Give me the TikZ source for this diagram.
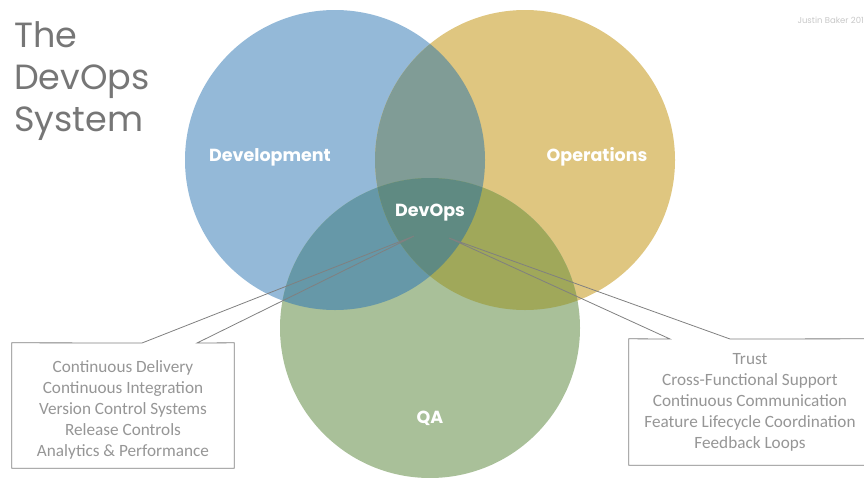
\documentclass[tikz,border=0pt]{standalone}
\usepackage{fontspec}
\setmainfont{Carlito}
\newfontfamily\gothic{Poppins}
\usepackage{tikz}
\usepackage{xcolor}
\tikzset{
        heading/.style={
            anchor=north west, inner sep=0pt, align=left,
            text=titlegray,
            font=\gothic\fontsize{35}{42}\selectfont
        },
        area/.style={
            text=white,
            font=\gothic\bfseries\fontsize{17.5}{20}\selectfont
        },
        notebox/.style={
            rectangle, fill=white, inner sep=0pt
        },
        notetext/.style={
            text=notegray, align=center, inner sep=0pt,
            font=\fontsize{17.2}{21}\selectfont
        },
        callout/.style={
            draw=linegray, line width=0.8pt, line join=miter
        },
        credit/.style={
            anchor=east, inner sep=0pt, text=creditgray,
            font=\gothic\fontsize{8.5}{10}\selectfont
        }
    }
\definecolor{devblue}{RGB}{148,185,216}
\definecolor{opsyellow}{RGB}{223,198,128}
\definecolor{qagreen}{RGB}{169,192,153}
\definecolor{devops}{RGB}{128,156,150}
\definecolor{devqa}{RGB}{102,152,168}
\definecolor{opsqa}{RGB}{160,168,90}
\definecolor{core}{RGB}{95,138,130}
\definecolor{titlegray}{RGB}{118,118,118}
\definecolor{notegray}{RGB}{150,150,150}
\definecolor{linegray}{RGB}{128,128,128}
\definecolor{creditgray}{RGB}{200,200,200}

\begin{document}
\begin{tikzpicture}[x=1pt, y=-1pt]
    \useasboundingbox (0,0) rectangle (864,477);

    \coordinate (D) at (335,160);
    \coordinate (O) at (525,160);
    \coordinate (Q) at (430,328);

    % circles
    \fill[devblue] (D) circle[radius=150pt];
    \fill[opsyellow] (O) circle[radius=150pt];
    \fill[qagreen] (Q) circle[radius=150pt];

    % overlaps
    \begin{scope}
        \clip (D) circle[radius=150pt];
        \fill[devops] (O) circle[radius=150pt];
        \fill[devqa] (Q) circle[radius=150pt];
    \end{scope}
    \begin{scope}
        \clip (O) circle[radius=150pt];
        \fill[opsqa] (Q) circle[radius=150pt];
        \clip (Q) circle[radius=150pt];
        \fill[core] (D) circle[radius=150pt];
    \end{scope}

    \node[heading] (title) at (14,21) {The\\DevOps\\System};
    \node[credit] (author) at (864,20) {Justin Baker 201};

    \node[area] (dev) at (270,157) {Development};
    \node[area] (ops) at (597,157) {Operations};
    \node[area] (core) at (430,213) {DevOps};
    \node[area] (qa) at (430,418) {QA};

    % callouts
    \node[notebox, minimum width=222pt, minimum height=125pt] (devnotes) at (123,405.5) {};
    \node[notetext] (devlist) at ([yshift=-4pt]devnotes.center)
        {Continuous Delivery\\Continuous Integration\\Version Control Systems\\Release Controls\\Analytics \& Performance};
    \node[notebox, minimum width=241pt, minimum height=126pt] (opsnotes) at (749.5,402) {};
    \node[notetext] (opslist) at (750,402)
        {Trust\\Cross-Functional Support\\Continuous Communication\\Feature Lifecycle Coordination\\Feedback Loops};

    \coordinate (devtip) at (414,236);
    \coordinate (devbaseA) at (142,343);
    \coordinate (devbaseB) at (197,343);
    \coordinate (opstip) at (449,238);
    \coordinate (opsbaseA) at (670,339);
    \coordinate (opsbaseB) at (730,339);

    \draw[callout] (devnotes.north west) -- (devbaseA) -- (devtip) -- (devbaseB)
        -- (devnotes.north east) -- (devnotes.south east) -- (devnotes.south west) -- cycle;
    \draw[callout] (opsnotes.north west) -- (opsbaseA) -- (opstip) -- (opsbaseB)
        -- (opsnotes.north east) -- (opsnotes.south east) -- (opsnotes.south west) -- cycle;

\end{tikzpicture}
\end{document}
